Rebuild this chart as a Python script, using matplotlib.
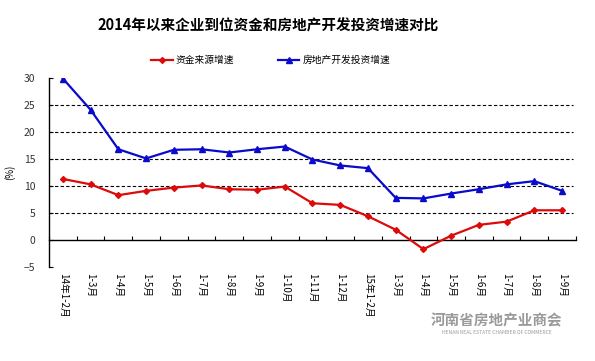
import matplotlib
matplotlib.use("Agg")
import matplotlib.pyplot as plt
import numpy as np

plt.rcParams["font.family"] = ["Noto Sans CJK SC", "DejaVu Sans"]

CATS = ["14年1-2月", "1-3月", "1-4月", "1-5月", "1-6月", "1-7月", "1-8月", "1-9月",
        "1-10月", "1-11月", "1-12月", "15年1-2月", "1-3月", "1-4月", "1-5月", "1-6月",
        "1-7月", "1-8月", "1-9月"]
FUND = [11.3, 10.3, 8.3, 9.1, 9.7, 10.1, 9.4, 9.3, 9.9, 6.8, 6.5, 4.4, 1.9, -1.7,
        0.8, 2.8, 3.4, 5.5, 5.5]
INVEST = [29.9, 24.1, 16.8, 15.1, 16.7, 16.8, 16.2, 16.8, 17.3, 14.9, 13.8, 13.3,
          7.8, 7.7, 8.6, 9.4, 10.3, 10.9, 9.1]
YTICKS = [-5, 0, 5, 10, 15, 20, 25, 30]
GRID = [5, 10, 15, 20, 25]

fig = plt.figure(figsize=(5.95, 3.61), dpi=100)
ax = fig.add_axes([0.0824, 0.2604, 0.8856, 0.5236])
x = np.arange(len(CATS))

for g in GRID:
    ax.axhline(g, color="black", lw=0.8, ls=(0, (3, 2)), xmax=0.995, zorder=1)

ax.plot(x, FUND, color="#dd0a0a", lw=1.6, marker="D", ms=3, label="资金来源增速", zorder=3)
ax.plot(x, INVEST, color="#0a0acc", lw=1.6, marker="^", ms=4, label="房地产开发投资增速", zorder=3)

ax.set_xlim(-0.5, len(CATS) - 0.5)
ax.set_ylim(-5, 30)
ax.set_yticks(YTICKS)
ax.tick_params(axis="y", direction="in", length=3, labelsize=7.5, labelcolor="#333333", pad=10)
for s in ["top", "right"]:
    ax.spines[s].set_visible(False)
ax.spines["bottom"].set_position(("data", 0))
ax.spines["left"].set_linewidth(1)
ax.spines["bottom"].set_linewidth(1)
ax.set_xticks(np.arange(len(CATS) + 1) - 0.5)
ax.tick_params(axis="x", direction="in", length=3, labelbottom=False)

sec = ax.secondary_xaxis("bottom")
sec.spines["bottom"].set_visible(False)
sec.set_xticks(x)
sec.set_xticklabels(CATS, rotation=270, fontsize=7, va="top", ha="center")
sec.tick_params(length=0, pad=4)

ax.set_ylabel("(%)", fontsize=7, rotation=90, labelpad=6)

fig.text(0.451, 0.93, "2014年以来企业到位资金和房地产开发投资增速对比",
         ha="center", va="center", fontsize=10.5, fontweight="bold")
fig.legend(loc="center", bbox_to_anchor=(0.455, 0.834), ncol=2, frameon=False,
           fontsize=7, handlelength=2.2, columnspacing=4.5, handletextpad=0.3)

fig.text(0.835, 0.113, "河南省房地产业商会", ha="center", va="center",
         fontsize=10.5, fontweight="bold", color="#9a9a9a")
fig.text(0.835, 0.08, "HENAN REAL ESTATE CHAMBER OF COMMERCE", ha="center", va="center",
         fontsize=3.6, color="#9a9a9a")

fig.savefig("out.png", dpi=100)
